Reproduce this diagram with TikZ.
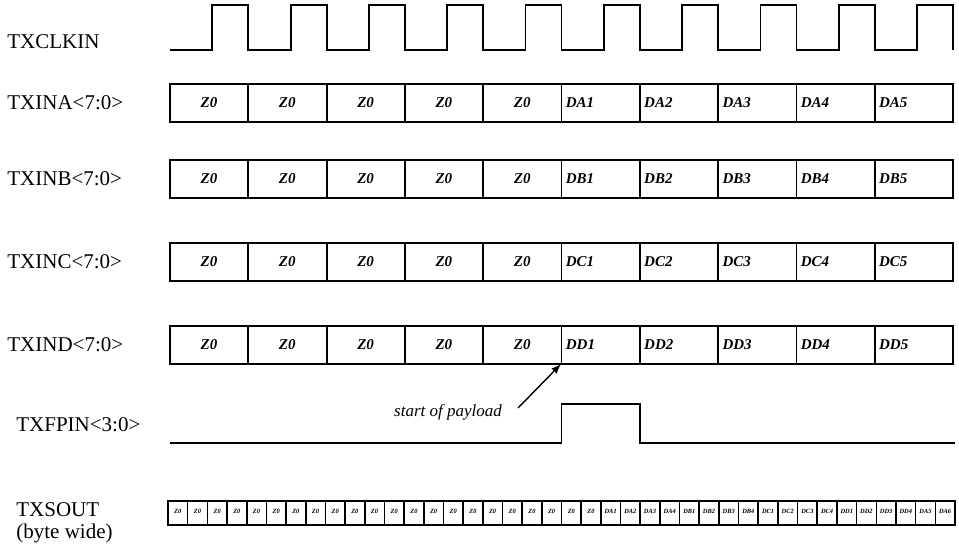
\documentclass[tikz,border=0pt]{standalone}
\usepackage{fontspec}
\setmainfont{Liberation Serif}
\usetikzlibrary{positioning}

\begin{document}
\begin{tikzpicture}[x=0.5pt, y=-0.5pt,
    sig/.style={line width=0.9pt},
    lbl/.style={anchor=west, inner sep=0pt, font=\fontsize{10.5}{12}\selectfont},
    cell/.style={inner sep=0pt, font=\fontsize{7.5}{9}\selectfont\bfseries\itshape},
    bytecell/.style={inner sep=0pt, font=\fontsize{3.2}{4}\selectfont\bfseries\itshape},
    note/.style={inner sep=0pt, font=\fontsize{8.5}{10}\selectfont\itshape}]

\useasboundingbox (0,0) rectangle (959,547);

% Signal names
\node[lbl] (clk) at (7,42) {TXCLKIN};
\node[lbl] (ina) at (7,103) {TXINA<7:0>};
\node[lbl] (inb) at (7,179) {TXINB<7:0>};
\node[lbl] (inc) at (7,262) {TXINC<7:0>};
\node[lbl] (ind) at (7,345) {TXIND<7:0>};
\node[lbl] (fpin) at (16,425) {TXFPIN<3:0>};
\node[lbl] (sout) at (16,510) {TXSOUT};
\node[lbl, below=3pt of sout.south west, anchor=north west] (soutw) {(byte wide)};

% Clock
\draw[sig] (170,50) foreach \k in {1,...,10} {
  -- ({170+78.3*\k-36},50) -- ({170+78.3*\k-36},5) -- ({170+78.3*\k},5) -- ({170+78.3*\k},50)};

% Input buses
\foreach \r/\top in {A/84, B/160, C/243, D/326} {
  \draw[sig] (170,\top) rectangle (953,\top+38);
  \foreach \k in {1,...,9}
    \draw[sig] ({170+78.3*\k},\top) -- ({170+78.3*\k},\top+38);
  \foreach \k in {0,...,4}
    \node[cell] (z\r\k) at ({209+78.3*\k},\top+19) {Z0};
  \foreach \k in {1,...,5}
    \node[cell, anchor=west] (d\r\k) at ({170+78.3*(\k+4)+4},\top+19) {D\r\k};
}

% Frame pulse
\draw[sig] (170,443) -- (561.5,443) -- (561.5,404) -- (639.8,404) -- (639.8,443) -- (955,443);
\node[note] (payload) at (448,412) {start of payload};
\coordinate (dd1) at (561,364);
\draw[-latex, line width=0.7pt] (518,408) -- (dd1);

% Serial bytes
\draw[sig] (168,501) rectangle (955,525);
\foreach \k in {1,...,39}
  \draw[line width=0.8pt] ({168+19.675*\k},501) -- ({168+19.675*\k},525);
\foreach \t [count=\i from 0] in {Z0,Z0,Z0,Z0,Z0,Z0,Z0,Z0,Z0,Z0,Z0,Z0,Z0,Z0,Z0,Z0,Z0,Z0,Z0,Z0,Z0,Z0,
    DA1,DA2,DA3,DA4,DB1,DB2,DB3,DB4,DC1,DC2,DC3,DC4,DD1,DD2,DD3,DD4,DA5,DA6}
  \node[bytecell] (s\i) at ({177.8+19.675*\i},511) {\t};

\end{tikzpicture}
\end{document}
